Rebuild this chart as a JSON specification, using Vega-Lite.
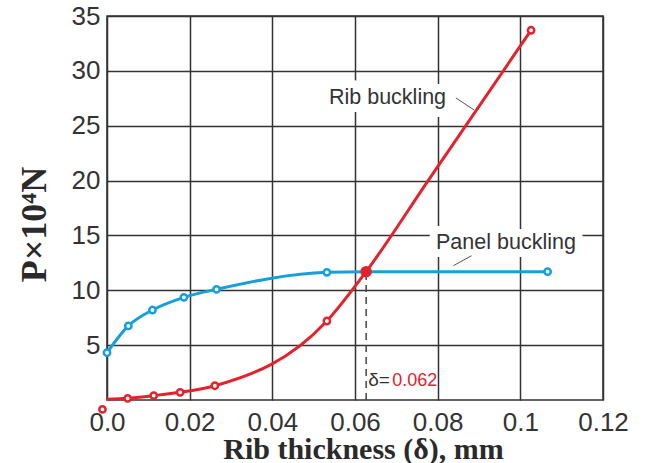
{
  "$schema": "https://vega.github.io/schema/vega-lite/v6.json",
  "width": 496,
  "height": 384,
  "autosize": {"type": "none"},
  "padding": {"left": 107, "top": 16, "right": 51, "bottom": 63},
  "background": "white",
  "config": {
    "view": {"stroke": "#333333", "strokeWidth": 1.5},
    "axis": {
      "grid": true, "gridColor": "#333333", "gridWidth": 1.5, "gridOpacity": 1,
      "domain": false, "ticks": false, "tickSize": 0,
      "labelFont": "Liberation Sans", "labelFontSize": 26, "labelColor": "#333333",
      "titleFont": "Liberation Serif", "titleFontWeight": "bold", "titleColor": "#2a2a2a",
      "labelOverlap": false, "labelFlush": false
    }
  },
  "datasets": {
    "curves": [
      {"s": "Rib buckling", "x": 0.0, "y": 0.06, "pt": 0, "ln": 1},
      {"s": "Rib buckling", "x": 0.005, "y": 0.15, "pt": 1, "ln": 1},
      {"s": "Rib buckling", "x": 0.0113, "y": 0.4, "pt": 1, "ln": 1},
      {"s": "Rib buckling", "x": 0.0177, "y": 0.7, "pt": 1, "ln": 1},
      {"s": "Rib buckling", "x": 0.0261, "y": 1.3, "pt": 1, "ln": 1},
      {"s": "Rib buckling", "x": 0.0532, "y": 7.2, "pt": 1, "ln": 1},
      {"s": "Rib buckling", "x": 0.0627, "y": 11.7, "pt": 0, "ln": 1},
      {"s": "Rib buckling", "x": 0.0777, "y": 20.0, "pt": 0, "ln": 1},
      {"s": "Rib buckling", "x": 0.1026, "y": 33.7, "pt": 1, "ln": 1},
      {"s": "Rib buckling", "x": -0.0011, "y": -0.85, "pt": 1, "ln": 0},
      {"s": "Panel buckling", "x": 0.0, "y": 4.31, "pt": 1, "ln": 1},
      {"s": "Panel buckling", "x": 0.00516, "y": 6.75, "pt": 1, "ln": 1},
      {"s": "Panel buckling", "x": 0.011, "y": 8.2, "pt": 1, "ln": 1},
      {"s": "Panel buckling", "x": 0.0186, "y": 9.36, "pt": 1, "ln": 1},
      {"s": "Panel buckling", "x": 0.0265, "y": 10.09, "pt": 1, "ln": 1},
      {"s": "Panel buckling", "x": 0.0532, "y": 11.64, "pt": 1, "ln": 1},
      {"s": "Panel buckling", "x": 0.0627, "y": 11.7, "pt": 0, "ln": 1},
      {"s": "Panel buckling", "x": 0.1066, "y": 11.7, "pt": 1, "ln": 1}
    ],
    "notes": [
      {"t": "Rib buckling", "x": 0.0537, "y": 26.98},
      {"t": "Panel buckling", "x": 0.0796, "y": 13.76}
    ],
    "leaders": [
      {"x": 0.0844, "y": 27.53, "x2": 0.0888, "y2": 26.44},
      {"x": 0.0882, "y": 13.15, "x2": 0.0838, "y2": 12.24}
    ],
    "cross": [
      {"x": 0.0627, "y": 11.7, "y0": 0, "lab": "δ=", "val": "0.062", "ly": 1.3}
    ]
  },
  "layer": [
    {
      "data": {"name": "notes"},
      "mark": {"type": "text", "align": "left", "baseline": "alphabetic", "font": "Liberation Sans", "fontSize": 21.5, "stroke": "white", "strokeWidth": 16, "strokeJoin": "round", "fill": "white"},
      "encoding": {
        "x": {"field": "x", "type": "quantitative", "scale": {"domain": [0, 0.12], "nice": false, "zero": false},
          "axis": {"values": [0, 0.02, 0.04, 0.06, 0.08, 0.1, 0.12], "labelExpr": "datum.value == 0 ? '0.0' : format(datum.value, '~g')", "labelPadding": 30, "labelBaseline": "alphabetic", "labelDx": 7,
            "title": "Rib thickness (δ), mm", "titleFontSize": 30, "titleX": 256, "titleY": 58, "titleAlign": "center", "titleBaseline": "alphabetic"}},
        "y": {"field": "y", "type": "quantitative", "scale": {"domain": [0, 35], "nice": false, "zero": false},
          "axis": {"values": [5, 10, 15, 20, 25, 30, 35], "labelPadding": 7, "labelBaseline": "middle", "labelAlign": "right",
            "title": "P×10⁴N", "titleFontSize": 36, "titleAngle": -90, "titleX": -62, "titleY": 208, "titleAlign": "center", "titleBaseline": "alphabetic"}},
        "text": {"field": "t"}
      }
    },
    {
      "data": {"name": "leaders"},
      "mark": {"type": "rule", "color": "#555555", "strokeWidth": 1},
      "encoding": {
        "x": {"field": "x", "type": "quantitative"},
        "y": {"field": "y", "type": "quantitative"},
        "x2": {"field": "x2"},
        "y2": {"field": "y2"}
      }
    },
    {
      "data": {"name": "cross"},
      "mark": {"type": "rule", "color": "#444444", "strokeWidth": 1.5, "strokeDash": [7, 5]},
      "encoding": {
        "x": {"field": "x", "type": "quantitative"},
        "y": {"field": "y0", "type": "quantitative"},
        "y2": {"field": "y"}
      }
    },
    {
      "data": {"name": "curves"},
      "transform": [{"filter": "datum.ln == 1"}],
      "mark": {"type": "line", "interpolate": "monotone", "strokeWidth": 3},
      "encoding": {
        "x": {"field": "x", "type": "quantitative"},
        "y": {"field": "y", "type": "quantitative"},
        "order": {"field": "x", "type": "quantitative"},
        "color": {"field": "s", "type": "nominal", "scale": {"domain": ["Panel buckling", "Rib buckling"], "range": ["#179fdb", "#e2232b"]}, "legend": null}
      }
    },
    {
      "data": {"name": "curves"},
      "transform": [{"filter": "datum.pt == 1"}],
      "mark": {"type": "point", "shape": "circle", "filled": true, "fill": "white", "opacity": 1, "size": 40, "strokeWidth": 2.5},
      "encoding": {
        "x": {"field": "x", "type": "quantitative"},
        "y": {"field": "y", "type": "quantitative"},
        "stroke": {"field": "s", "type": "nominal", "scale": {"domain": ["Panel buckling", "Rib buckling"], "range": ["#179fdb", "#e2232b"]}, "legend": null}
      }
    },
    {
      "data": {"name": "cross"},
      "mark": {"type": "circle", "color": "#e2232b", "opacity": 1, "size": 130},
      "encoding": {
        "x": {"field": "x", "type": "quantitative"},
        "y": {"field": "y", "type": "quantitative"}
      }
    },
    {
      "data": {"name": "notes"},
      "mark": {"type": "text", "align": "left", "baseline": "alphabetic", "font": "Liberation Sans", "fontSize": 21.5, "color": "#333333"},
      "encoding": {
        "x": {"field": "x", "type": "quantitative"},
        "y": {"field": "y", "type": "quantitative"},
        "text": {"field": "t"}
      }
    },
    {
      "data": {"name": "cross"},
      "mark": {"type": "text", "align": "left", "baseline": "alphabetic", "font": "Liberation Sans", "fontSize": 19, "color": "#333333", "dx": 2},
      "encoding": {
        "x": {"field": "x", "type": "quantitative"},
        "y": {"field": "ly", "type": "quantitative"},
        "text": {"field": "lab"}
      }
    },
    {
      "data": {"name": "cross"},
      "mark": {"type": "text", "align": "left", "baseline": "alphabetic", "font": "Liberation Sans", "fontSize": 18, "color": "#e2232b", "dx": 26},
      "encoding": {
        "x": {"field": "x", "type": "quantitative"},
        "y": {"field": "ly", "type": "quantitative"},
        "text": {"field": "val"}
      }
    }
  ]
}
